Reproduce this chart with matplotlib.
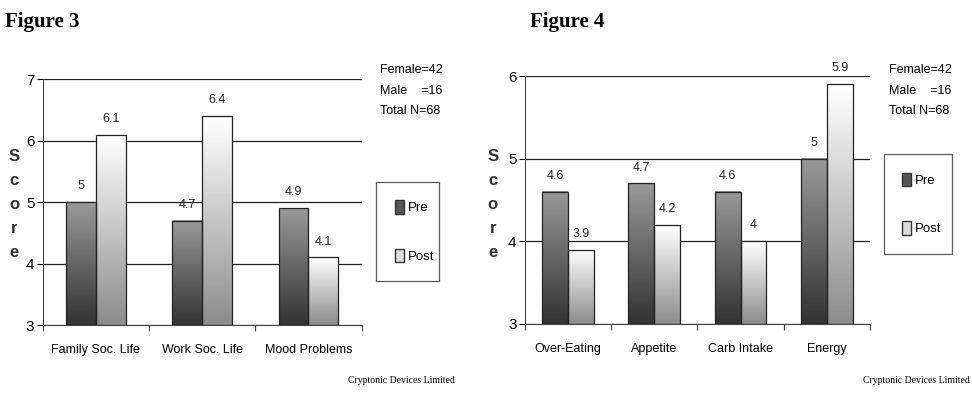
import matplotlib as mpl
mpl.use('Agg')

import matplotlib.pyplot as plt
import numpy as np
from matplotlib.patches import Patch

plt.rcParams['font.family'] = ['Liberation Sans', 'DejaVu Sans']

# Figure 3 data
cats3 = ["Family Soc. Life", "Work Soc. Life", "Mood Problems"]
pre3 = [5.0, 4.7, 4.9]
post3 = [6.1, 6.4, 4.1]
pre3_lbl = ["5", "4.7", "4.9"]
post3_lbl = ["6.1", "6.4", "4.1"]

# Figure 4 data
cats4 = ["Over-Eating", "Appetite", "Carb Intake", "Energy"]
pre4 = [4.6, 4.7, 4.6, 5.0]
post4 = [3.9, 4.2, 4.0, 5.9]
pre4_lbl = ["4.6", "4.7", "4.6", "5"]
post4_lbl = ["3.9", "4.2", "4", "5.9"]

sample_txt = ["Female=42", "Male    =16", "Total N=68"]

fig = plt.figure(figsize=(9.72, 3.94), dpi=100)

# gradients: rows from bottom (index 0) to top
grad_pre = np.linspace(0.2, 0.6, 64)[:, None]
grad_post = np.linspace(0.55, 1.0, 64)[:, None]


def grad_bars(ax, x, vals, w, grad, base):
    bars = ax.bar(x, np.array(vals) - base, w, bottom=base, fill=False,
                  edgecolor='#222222', linewidth=0.9, zorder=3)
    for b in bars:
        x0 = b.get_x()
        ax.imshow(grad, cmap='gray', vmin=0, vmax=1, origin='lower',
                  extent=[x0, x0 + b.get_width(), base, base + b.get_height()],
                  aspect='auto', zorder=2, interpolation='bilinear')
    return bars


def panel(rect, cats, pre, post, pre_lbl, post_lbl, ymax, w):
    ax = fig.add_axes(rect)
    x = np.arange(len(cats))
    grad_bars(ax, x - w / 2, pre, w, grad_pre, 3)
    grad_bars(ax, x + w / 2, post, w, grad_post, 3)
    off = 0.16 * (ymax - 3) / 4
    for xi, v, t in zip(x - w / 2, pre, pre_lbl):
        ax.text(xi, v + off, t, ha='center', va='bottom', fontsize=9, color='#222222')
    for xi, v, t in zip(x + w / 2, post, post_lbl):
        ax.text(xi, v + off, t, ha='center', va='bottom', fontsize=9, color='#222222')
    ax.set_xlim(-0.5, len(cats) - 0.5)
    ax.set_ylim(3, ymax)
    ax.set_yticks(range(3, ymax + 1))
    ax.yaxis.grid(True, color='#222222', linewidth=0.9)
    ax.set_axisbelow(True)
    ax.set_xticks(np.arange(len(cats) + 1) - 0.5)
    ax.set_xticklabels([])
    ax.set_xticks(x, minor=True)
    ax.set_xticklabels(cats, minor=True, fontsize=9)
    ax.tick_params(axis='x', which='minor', length=0, pad=14)
    ax.tick_params(axis='x', which='major', length=4, color='#444444')
    ax.tick_params(axis='y', length=4, labelsize=11, pad=2)
    for s in ['top', 'right']:
        ax.spines[s].set_visible(False)
    for s in ['left', 'bottom']:
        ax.spines[s].set_color('#444444')
    return ax


ax1 = panel([0.044, 0.175, 0.328, 0.624], cats3, pre3, post3, pre3_lbl, post3_lbl, 7, 0.28)
ax2 = panel([0.540, 0.178, 0.355, 0.629], cats4, pre4, post4, pre4_lbl, post4_lbl, 6, 0.30)

fig.text(0.005, 0.97, "Figure 3", fontsize=15, fontweight='bold', family='Liberation Serif', va='top')
fig.text(0.545, 0.97, "Figure 4", fontsize=15, fontweight='bold', family='Liberation Serif', va='top')

for xs in [0.0145, 0.507]:
    fig.text(xs, 0.48, "S\nc\no\nr\ne", fontsize=12, fontweight='bold', ha='center', va='center',
             linespacing=1.75, color='#333333')

for xs in [0.391, 0.915]:
    for i, t in enumerate(sample_txt):
        fig.text(xs, 0.822 - i * 0.052, t, fontsize=9, va='center')

handles = [Patch(facecolor='#555555', edgecolor='#333333', label='Pre'),
           Patch(facecolor='#dddddd', edgecolor='#333333', label='Post')]
for bb in [(0.387, 0.287, 0.065, 0.251), (0.909, 0.345, 0.07, 0.274)]:
    leg = fig.legend(handles=handles, loc='center', bbox_to_anchor=bb, fontsize=9.5,
                     frameon=True, fancybox=False, edgecolor='#333333', labelspacing=2.6,
                     handlelength=0.7, handleheight=1.2, handletextpad=0.3, borderpad=1.4,
                     mode='expand', borderaxespad=0)
    leg.get_frame().set_linewidth(0.9)

fig.text(0.468, 0.028, "Cryptonic Devices Limited", fontsize=7, family='Liberation Serif', ha='right')
fig.text(0.998, 0.028, "Cryptonic Devices Limited", fontsize=7, family='Liberation Serif', ha='right')

fig.savefig("out.png", dpi=100)
